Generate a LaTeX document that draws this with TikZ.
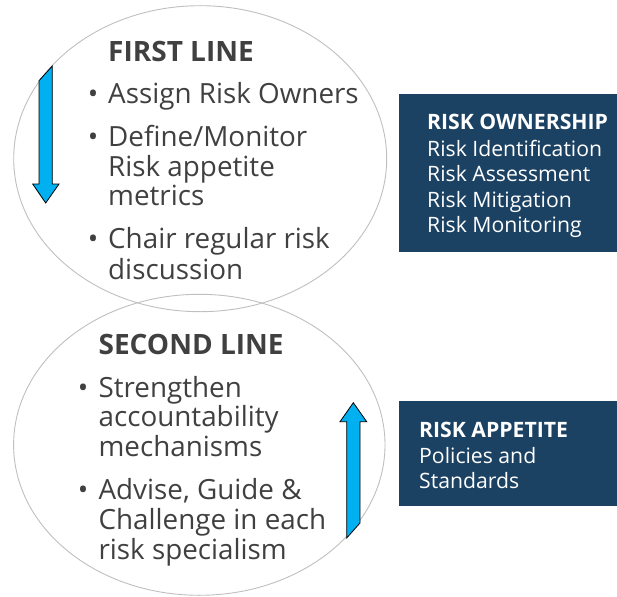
\documentclass[tikz,border=0pt]{standalone}
\usepackage{fontspec}
\setmainfont{Open Sans}
\usetikzlibrary{shapes.geometric}
\definecolor{navy}{HTML}{1C4263}
\definecolor{txtgray}{HTML}{404040}
\definecolor{ringgray}{HTML}{BFBFBF}
\definecolor{arrowblue}{HTML}{00B0F0}
\tikzset{
  ring/.style={draw=ringgray, line width=0.9pt, ellipse, inner sep=0pt},
  ttl/.style={anchor=base west, inner sep=0pt, font=\fontsize{28}{30}\selectfont\bfseries, text=txtgray},
  body/.style={anchor=base west, inner sep=0pt, font=\fontsize{27.8}{30}\selectfont, text=txtgray},
  dotmark/.style={anchor=base, inner sep=0pt, font=\fontsize{27.8}{30}\selectfont, text=txtgray},
  panel/.style={fill=navy, draw=none, inner sep=0pt, anchor=north west},
  ptitle/.style={anchor=base west, inner sep=0pt, font=\fontsize{21.2}{25}\selectfont\bfseries, text=white},
  pbody/.style={anchor=base west, inner sep=0pt, font=\fontsize{21.2}{25}\selectfont, text=white},
  flow/.style={fill=arrowblue, draw=black, line width=0.8pt, line join=miter},
}
\begin{document}
\begin{tikzpicture}[x=1pt,y=-1pt]
\useasboundingbox (0,0) rectangle (617,596);
% ellipses
\node[ring, minimum width=373pt, minimum height=306pt] (first) at (200.2,158.7) {};
\node[ring, minimum width=371.4pt, minimum height=301pt] (second) at (199.3,444.8) {};
% panels
\node[panel, minimum width=218pt, minimum height=158pt] (own) at (399,94) {};
\node[panel, minimum width=218pt, minimum height=105pt] (app) at (399,401) {};
% arrows
\draw[flow] (39,80.7) -- (52.3,66) -- (52.3,184) -- (59,184) -- (45.7,203) -- (32.7,184) -- (39,184) -- cycle;
\draw[flow] (346.7,538) -- (346.7,421.7) -- (340,421.7) -- (353.3,402.7) -- (366.7,421.7) -- (360,421.7) -- (360,523) -- cycle;
% first line text
\node[ttl] (t1) at (108,61.6) {FIRST LINE};
\node[dotmark] (b1) at (93,103.4) {•};
\node[body] (a1) at (108,103.4) {Assign Risk Owners};
\node[dotmark] (b2) at (93,146.4) {•};
\node[body] (a2) at (108,146.4) {Define/Monitor};
\node[body] (a3) at (108,176) {Risk appetite};
\node[body] (a4) at (108,205.5) {metrics};
\node[dotmark] (b3) at (93,248) {•};
\node[body] (a5) at (108,248) {Chair regular risk};
\node[body] (a6) at (108,279.5) {discussion};
% second line text
\node[ttl] (t2) at (98.4,354) {SECOND LINE};
\node[dotmark] (b4) at (83,397) {•};
\node[body] (s1) at (98.4,397) {Strengthen};
\node[body] (s2) at (98.4,426.6) {accountability};
\node[body] (s3) at (98.4,456) {mechanisms};
\node[dotmark] (b5) at (83,499) {•};
\node[body] (s4) at (98.4,499) {Advise, Guide \&};
\node[body] (s5) at (98.4,529.6) {Challenge in each};
\node[body] (s6) at (98.4,559) {risk specialism};
% panel texts
\node[ptitle] (o1) at (427,130) {RISK OWNERSHIP};
\node[pbody] (o2) at (427,156) {Risk Identification};
\node[pbody] (o3) at (427,181.6) {Risk Assessment};
\node[pbody] (o4) at (427,207) {Risk Mitigation};
\node[pbody] (o5) at (427,232.6) {Risk Monitoring};
\node[ptitle] (p1) at (419,437) {RISK APPETITE};
\node[pbody] (p2) at (419,463) {Policies and};
\node[pbody] (p3) at (419,488.6) {Standards};
\end{tikzpicture}
\end{document}
